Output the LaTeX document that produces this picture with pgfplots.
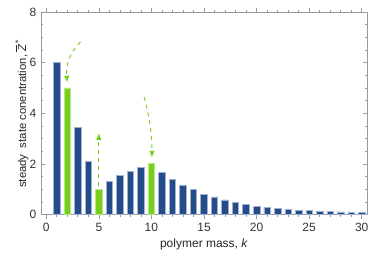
\documentclass[border=0pt]{standalone}
\usepackage{fontspec}
\setmainfont{Liberation Sans}
\usepackage{pgfplots}
\pgfplotsset{compat=1.18}
\usetikzlibrary{arrows.meta}
\definecolor{barblue}{HTML}{244C8A}
\definecolor{bluedge}{HTML}{9DB2D2}
\definecolor{bargreen}{HTML}{76CF1C}
\definecolor{greenedge}{HTML}{B5E882}
\definecolor{framegray}{HTML}{9A9A9A}
\pgfplotstableread{
k z
1 6.01
3 3.43
4 2.10
6 1.30
7 1.54
8 1.72
9 1.88
11 1.68
12 1.40
13 1.16
14 0.98
15 0.80
16 0.70
17 0.58
18 0.48
19 0.41
20 0.34
21 0.29
22 0.24
23 0.21
24 0.18
25 0.16
26 0.14
27 0.12
28 0.11
29 0.10
30 0.09
}\bluedata
\pgfplotstableread{
k z
2 5.00
5 1.01
10 2.01
}\greendata
\begin{document}
\begin{tikzpicture}
\begin{axis}[
  name=ax,
  scale only axis,
  width=244.5pt, height=152pt,
  xmin=-0.5, xmax=30.5, ymin=0, ymax=8,
  xtick={0,5,...,30}, ytick={0,2,...,8},
  minor x tick num=4, minor y tick num=3,
  tick align=inside,
  major tick length=3pt, minor tick length=1.8pt,
  axis line style={framegray, line width=0.6pt},
  every tick/.style={framegray, line width=0.5pt},
  tick label style={font=\fontsize{9}{10}\selectfont, text=black!80},
  label style={font=\fontsize{9}{10}\selectfont, text=black!85},
  /pgf/number format/assume math mode=true,
  xlabel={polymer mass, \textit{k}},
  ylabel={steady\ \ state conentration, $\overline{\mbox{\itshape Z}}^{*}$},
  xlabel style={yshift=2pt},
  ylabel style={yshift=-6pt, font=\fontsize{8.5}{10}\selectfont, yshift=0pt},
  ybar, bar width=0.62, bar shift=0pt,
]
\addplot[fill=barblue, draw=bluedge, line width=0.5pt] table[x=k, y=z] {\bluedata};
\addplot[fill=bargreen, draw=greenedge, line width=0.5pt] table[x=k, y=z] {\greendata};
\draw[bargreen, dashed, line width=0.7pt, -{Latex[length=5pt, width=4pt]}]
  (axis cs:3.25,6.82) to[out=225, in=95] (axis cs:2.0,5.22);
\draw[bargreen, dashed, line width=0.7pt, -{Latex[length=5pt, width=4pt]}]
  (axis cs:5.0,1.12) -- (axis cs:5.0,3.22);
\draw[bargreen, dashed, line width=0.7pt, -{Latex[length=5pt, width=4pt]}]
  (axis cs:9.3,4.65) to[out=-75, in=90] (axis cs:10.05,2.25);
\end{axis}
\path ([yshift=9pt]ax.north) ([yshift=-37.5pt]ax.south) ([xshift=-30.75pt]ax.west) ([xshift=4.5pt]ax.east);
\end{tikzpicture}
\end{document}
